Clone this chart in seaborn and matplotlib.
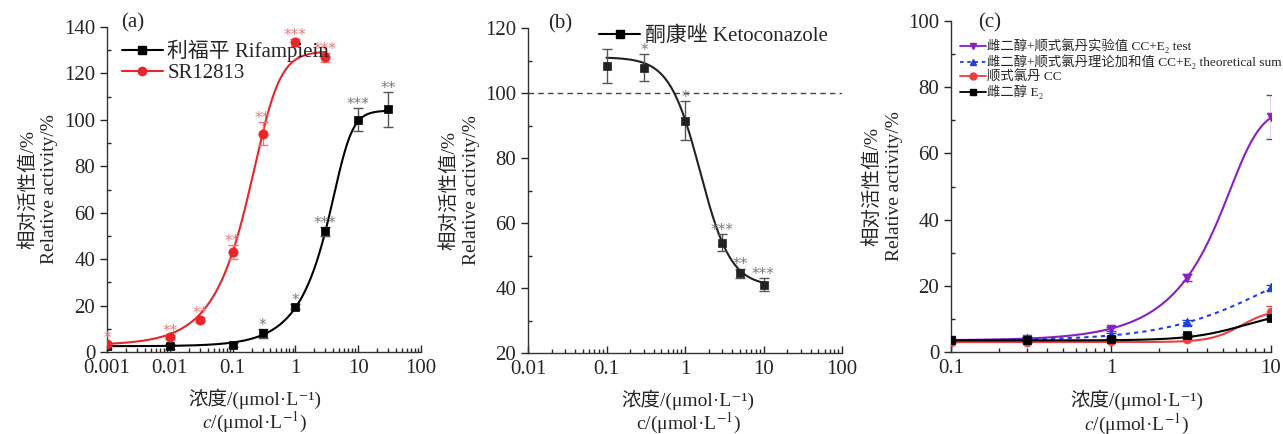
import numpy as np
import pandas as pd
import matplotlib
matplotlib.use("Agg")
import matplotlib.pyplot as plt
from matplotlib.lines import Line2D
from matplotlib.ticker import LogLocator, MultipleLocator, NullFormatter, FixedLocator
import seaborn as sns

sns.set_style("ticks")
plt.rcParams['font.family'] = ['Liberation Serif', 'Noto Sans CJK SC', 'DejaVu Sans']
plt.rcParams['mathtext.fontset'] = 'stix'

# ---------------- data ----------------
# (a)
rif_x = [0.001, 0.01, 0.1, 0.3, 1, 3, 10, 30]
rif_y = [2.5, 2.5, 3.0, 8.0, 19.5, 52.0, 100.0, 104.5]
rif_err = [1.0, 1.0, 1.0, 2.0, 1.0, 2.0, 5.0, 7.5]
rif_sig = ["", "", "", "*", "*", "***", "***", "**"]
rif_fit = [2.5, 104.0, 5.9, 3.4, 0.3]      # bottom, top, c, hill, asym (5PL)

sr_x = [0.001, 0.01, 0.03, 0.1, 0.3, 1, 3]
sr_y = [3.5, 6.5, 14.0, 43.0, 94.0, 133.5, 127.0]
sr_err = [1.0, 1.0, 1.0, 3.0, 5.0, 1.5, 2.0]
sr_sig = ["*", "**", "**", "**", "**", "***", "***"]
sr_fit = [3.0, 129.5, 0.332, 2.35, 0.4]

# (b)
keto_x = [0.1, 0.3, 1, 3, 5, 10]
keto_y = [108.3, 107.8, 91.5, 54.0, 44.5, 41.0]
keto_err = [5.3, 4.2, 6.0, 2.5, 1.5, 2.0]
keto_sig = ["", "*", "*", "***", "**", "***"]
keto_fit = [40.5, 111.0, 1.56, 2.22]        # bottom, top, IC50, hill (decreasing)

# (c)
c_x = [0.1, 0.3, 1, 3, 10]
test_y = [3.5, 4.0, 7.0, 22.5, 71.0]
test_err = [0.3, 0.4, 0.6, 1.2, 6.5]
sum_y = [3.5, 4.2, 5.3, 9.0, 19.5]
sum_err = [0.3, 0.3, 0.4, 0.8, 0.8]
cc_y = [3.0, 3.0, 3.2, 4.0, 12.0]
cc_err = [0.3, 0.3, 0.3, 0.5, 2.0]
e2_y = [3.5, 3.5, 3.8, 5.0, 10.2]
e2_err = [0.3, 0.3, 0.3, 0.4, 0.6]
test_fit = [3.5, 74.0, 7.03, 5.1, 0.3]
sum_fit = [3.5, 35.0, 10.0, 1.3, 1.0]
cc_fit = [3.0, 13.0, 6.5, 4.5, 1.0]
e2_fit = [3.5, 13.0, 7.0, 2.5, 1.0]

labels_c = ["雌二醇+顺式氯丹实验值 CC+E₂ test",
            "雌二醇+顺式氯丹理论加和值 CC+E₂ theoretical sum",
            "顺式氯丹 CC",
            "雌二醇 E₂"]

xlabel_cn = "浓度/(μmol·L⁻¹)"
xlabel_en_it = r"$c$/(μmol·L$^{-1}$)"
xlabel_en_up = r"c/(μmol·L$^{-1}$)"
ylabel_txt = "相对活性值/%\nRelative activity/%"


def pl5(x, p):
    b, t, c, h, s = p
    return b + (t - b) / (1.0 + (c / x) ** h) ** s


def pl4_dec(x, p):
    b, t, c, h = p
    return b + (t - b) / (1.0 + (x / c) ** h)


W, H = 1283, 434
fig = plt.figure(figsize=(W / 100, H / 100), dpi=100)

FS = 14
GRAY = "#7a7a7a"
LRED = "#e87a7a"


def style_axes(ax, xlim, ylim, ymajor, yminor, xticks, xlabels):
    ax.set_xscale("log")
    ax.set_xlim(*xlim)
    ax.set_ylim(*ylim)
    sns.despine(ax=ax)
    ax.yaxis.set_major_locator(MultipleLocator(ymajor))
    ax.yaxis.set_minor_locator(MultipleLocator(yminor))
    ax.xaxis.set_major_locator(FixedLocator(xticks))
    ax.set_xticklabels(xlabels)
    ax.xaxis.set_minor_locator(LogLocator(base=10, subs=np.arange(2, 10)))
    ax.xaxis.set_minor_formatter(NullFormatter())
    ax.tick_params(axis="y", which="major", direction="out", length=5, width=1, labelsize=FS + 1)
    ax.tick_params(axis="y", which="minor", direction="in", length=3, width=1)
    ax.tick_params(axis="x", which="major", direction="in", length=5, width=1, labelsize=FS + 1, pad=5)
    ax.tick_params(axis="x", which="minor", direction="in", length=3, width=1)
    for sp in ["left", "bottom"]:
        ax.spines[sp].set_color("#333333")
        ax.spines[sp].set_linewidth(1.0)
    ax.set_ylabel(ylabel_txt, fontsize=FS, linespacing=1.3)


def set_xlabel(ax, xc, en_text):
    ax.set_xlabel("")
    ax.text(xc, -0.145, xlabel_cn, transform=ax.transAxes, ha="center", va="center", fontsize=FS)
    ax.text(xc, -0.218, en_text, transform=ax.transAxes, ha="center", va="center", fontsize=FS)


def draw_series(ax, x, y, err, fitx, fity, color, marker, ecolor, ms, ls="-", lw=1.5, zorder=3):
    dfc = pd.DataFrame({"x": fitx, "y": fity})
    sns.lineplot(data=dfc, x="x", y="y", ax=ax, color=color, lw=lw, linestyle=ls, zorder=zorder)
    ax.errorbar(x, y, yerr=err, fmt="none", ecolor=ecolor, elinewidth=1.0, capsize=3.5, capthick=1.0, zorder=zorder)
    dfp = pd.DataFrame({"x": x, "y": y})
    sns.scatterplot(data=dfp, x="x", y="y", ax=ax, color=color, marker=marker, s=ms,
                    edgecolor=color, linewidth=0.5, zorder=zorder + 1)


def stars(ax, x, y, err, sig, color, dy):
    for xi, yi, ei, si in zip(x, y, err, sig):
        if si:
            ax.text(xi, yi + ei + dy, si, color=color, ha="center", va="center",
                    fontsize=11, family="DejaVu Sans", zorder=5)


# ---------------- (a) ----------------
axa = fig.add_axes([107 / W, 1 - 352 / H, 314 / W, 325 / H])
xs = np.logspace(-3, np.log10(30), 300)
draw_series(axa, rif_x, rif_y, rif_err, xs, pl5(xs, rif_fit), "black", "s", "#555555", 40)
xs2 = np.logspace(-3, np.log10(3), 300)
draw_series(axa, sr_x, sr_y, sr_err, xs2, pl5(xs2, sr_fit), "#e8262a", "o", LRED, 45)
stars(axa, rif_x, rif_y, rif_err, rif_sig, GRAY, 1.5)
stars(axa, sr_x, sr_y, sr_err, sr_sig, LRED, 1.5)
style_axes(axa, (0.001, 100), (0, 140), 20, 10,
           [0.001, 0.01, 0.1, 1, 10, 100], ["0.001", "0.01", "0.1", "1", "10", "100"])
set_xlabel(axa, 0.471, xlabel_en_it)
ha = [Line2D([], [], color="black", marker="s", ms=6, lw=1.5),
      Line2D([], [], color="#e8262a", marker="o", ms=6, lw=1.5)]
axa.legend(ha, ["利福平 Rifampiein", "SR12813"], loc="upper left", bbox_to_anchor=(0.0, 1.005),
           frameon=False, fontsize=FS + 1, handlelength=2.0, handletextpad=0.2,
           labelspacing=0.05, borderaxespad=0.3)
axa.text(0.045, 1.012, "(a)", transform=axa.transAxes, fontsize=FS + 1, va="center", ha="left")

# ---------------- (b) ----------------
axb = fig.add_axes([528 / W, 1 - 353 / H, 314 / W, 325 / H])
axb.axhline(100, color="#444444", lw=1.0, ls=(0, (4, 3)), zorder=1)
xs3 = np.logspace(-1, 1, 300)
draw_series(axb, keto_x, keto_y, keto_err, xs3, pl4_dec(xs3, keto_fit), "#222222", "s", "#555555", 40)
stars(axb, keto_x, keto_y, keto_err, keto_sig, GRAY, 1.2)
style_axes(axb, (0.01, 100), (20, 120), 20, 10,
           [0.01, 0.1, 1, 10, 100], ["0.01", "0.1", "1", "10", "100"])
set_xlabel(axb, 0.51, xlabel_en_up)
hb = [Line2D([], [], color="black", marker="s", ms=6, lw=1.5)]
axb.legend(hb, ["酮康唑 Ketoconazole"], loc="upper right", bbox_to_anchor=(1.0, 1.05),
           frameon=False, fontsize=FS + 1, handlelength=2.0, handletextpad=0.2, borderaxespad=0.3)
axb.text(0.065, 1.012, "(b)", transform=axb.transAxes, fontsize=FS + 1, va="center", ha="left")

# ---------------- (c) ----------------
axc = fig.add_axes([951 / W, 1 - 352 / H, 320 / W, 331 / H])
xs4 = np.logspace(-1, 1, 300)
PURP = "#8a1fc2"
BLUE = "#1f3fe0"
RED = "#e84040"
draw_series(axc, c_x, test_y, test_err, xs4, pl5(xs4, test_fit), PURP, "v", PURP, 40)
draw_series(axc, c_x, sum_y, sum_err, xs4, pl5(xs4, sum_fit), BLUE, "^", BLUE, 40, ls=(0, (2, 2)))
draw_series(axc, c_x, cc_y, cc_err, xs4, pl5(xs4, cc_fit), RED, "o", RED, 40)
draw_series(axc, c_x, e2_y, e2_err, xs4, pl5(xs4, e2_fit), "black", "s", "black", 30)
style_axes(axc, (0.1, 10), (0, 100), 20, 10, [0.1, 1, 10], ["0.1", "1", "10"])
set_xlabel(axc, 0.581, xlabel_en_it)
hc = [Line2D([], [], color=PURP, marker="v", ms=5, lw=1.3),
      Line2D([], [], color=BLUE, marker="^", ms=5, lw=1.3, ls=(0, (2, 2))),
      Line2D([], [], color=RED, marker="o", ms=5, lw=1.3),
      Line2D([], [], color="black", marker="s", ms=4.5, lw=1.3)]
axc.legend(hc, labels_c, loc="upper left", bbox_to_anchor=(0.0, 0.975), frameon=False,
           fontsize=9.6, handlelength=1.9, handletextpad=0.1, labelspacing=0.08, borderaxespad=0.3)
axc.text(0.085, 0.994, "(c)", transform=axc.transAxes, fontsize=FS + 1, va="center", ha="left")

for ax in (axa, axb, axc):
    for lab in ax.get_xticklabels() + ax.get_yticklabels():
        lab.set_family("Liberation Serif")

fig.savefig("out.png", dpi=100)
